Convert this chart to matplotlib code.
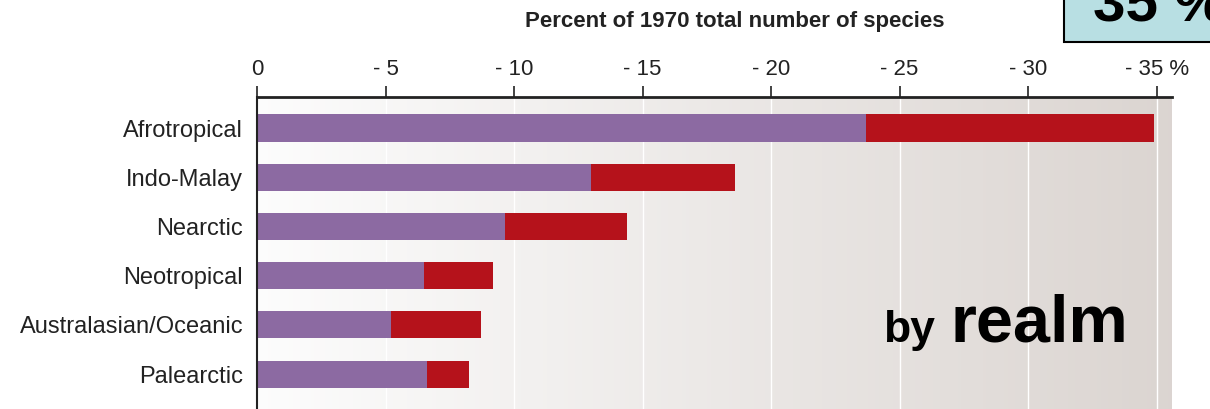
import matplotlib.pyplot as plt
import numpy as np
from matplotlib.patches import Rectangle

realms = ['Afrotropical', 'Indo-Malay', 'Nearctic', 'Neotropical',
          'Australasian/Oceanic', 'Palearctic']
# percent change since 1970, purple segment and total (purple + red)
purple_part = [-23.7, -13.0, -9.65, -6.5, -5.2, -6.6]
total = [-34.9, -18.6, -14.4, -9.2, -8.7, -8.25]
red_part = [t - p for t, p in zip(total, purple_part)]

tick_values = [0, -5, -10, -15, -20, -25, -30, -35]
tick_labels = ['0', '- 5', '- 10', '- 15', '- 20', '- 25', '- 30', '- 35 %']

plain = ['Liberation Sans', 'DejaVu Sans']

fig = plt.figure(figsize=(12.1, 4.09), dpi=100)
ax = fig.add_axes([257 / 1210, 0.0, (1172 - 257) / 1210, 1 - 97 / 409])

# background gradient white -> warm grey
grad = np.linspace(0, 1, 256)
c0 = np.array([0.99, 0.99, 0.99])
c1 = np.array([0.86, 0.835, 0.82])
img = (c0[None, :] * (1 - grad[:, None]) + c1[None, :] * grad[:, None])[None, :, :]
ax.imshow(img, aspect='auto', extent=[0, -35.6, 5.71, -0.63], zorder=0)

for v in tick_values[1:]:
    ax.axvline(v, color='white', lw=1, zorder=1)

y = np.arange(len(realms))
ax.barh(y, purple_part, height=0.55, color='#8c6aa2', zorder=2)
ax.barh(y, red_part, left=purple_part, height=0.55, color='#b5121b', zorder=2)

ax.set_xlim(0, -35.6)
ax.set_ylim(5.71, -0.63)
ax.set_yticks(y)
ax.set_yticklabels(realms, fontsize=17, family=plain, color='#222222')
ax.tick_params(axis='y', length=0, pad=10)
ax.xaxis.tick_top()
ax.set_xticks(tick_values)
ax.set_xticklabels(tick_labels, fontsize=16, family=plain, color='#222222')
ax.tick_params(axis='x', length=8, width=1.2, pad=4, color='#222222')
for s in ['right', 'bottom']:
    ax.spines[s].set_visible(False)
ax.spines['top'].set_linewidth(2)
ax.spines['left'].set_linewidth(1.5)
ax.spines['top'].set_color('#222222')
ax.spines['left'].set_color('#222222')

fig.text(735 / 1210, 1 - 22 / 409, 'Percent of 1970 total number of species',
         ha='center', va='center', fontsize=16, fontweight='bold',
         family=plain, color='#222222')

fig.text(935 / 1210, 1 - 342 / 409, 'by', ha='right', va='baseline',
         fontsize=32, fontweight='bold', family=plain)
fig.text(950 / 1210, 1 - 342 / 409, 'realm', ha='left', va='baseline',
         fontsize=48, fontweight='bold', family=plain)

fig.patches.append(Rectangle((1064 / 1210, 1 - 42 / 409), 0.3, 0.3,
                             transform=fig.transFigure, facecolor='#b8dfe3',
                             edgecolor='black', lw=1.5))
fig.text(1093 / 1210, 1 - 22 / 409, '35 %', ha='left', va='baseline',
         fontsize=42, fontweight='bold', family=plain)

plt.savefig('out.png', dpi=100)
